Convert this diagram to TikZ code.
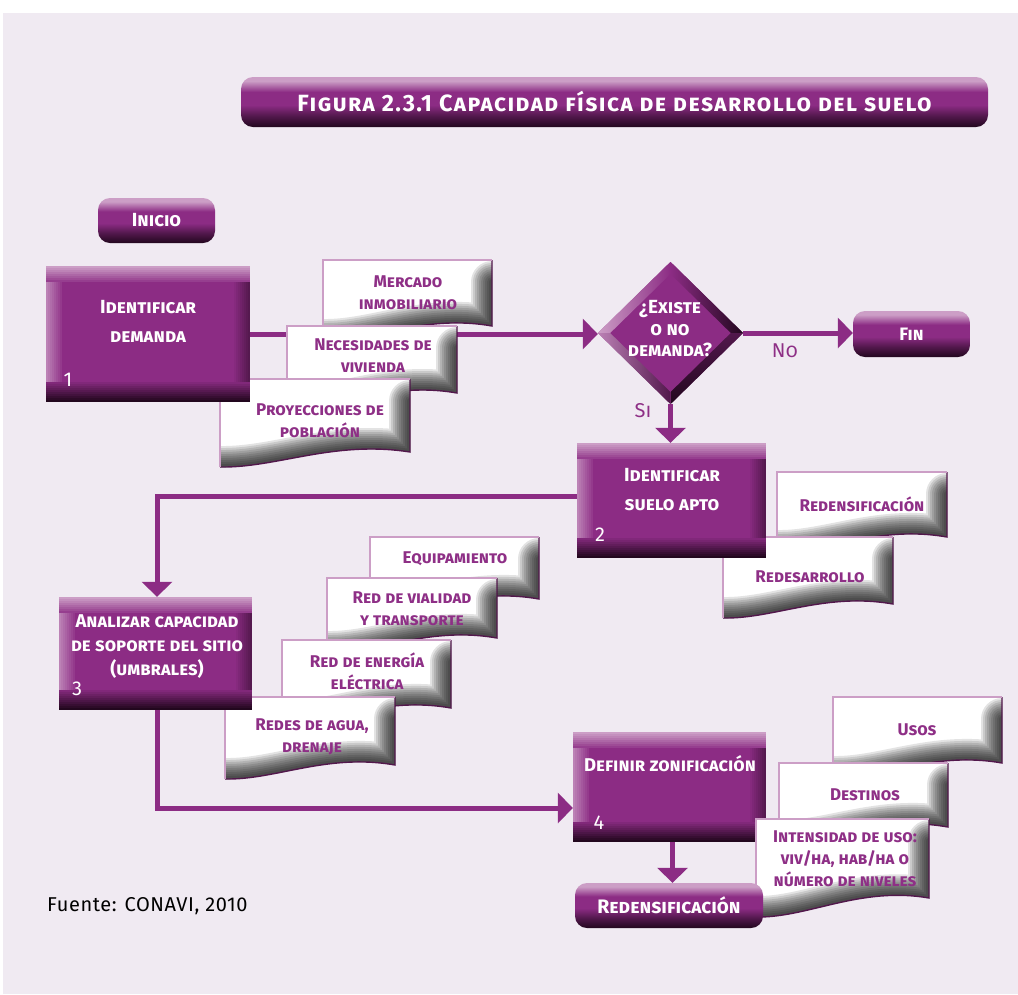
\documentclass[tikz,border=0pt]{standalone}
\usepackage{fontspec}
\setmainfont{Fira Sans}
\usetikzlibrary{arrows.meta,shapes.geometric,calc}

\definecolor{bgc}{HTML}{F0EAF2}
\definecolor{plum}{HTML}{8C2C84}
\definecolor{plumlt}{HTML}{CC9EC6}
\definecolor{plumdk}{HTML}{22071E}
\definecolor{plumtxt}{HTML}{8E2F86}
\colorlet{plummd}{plumdk!55!plum}
\colorlet{plumhi}{plumlt!75!plum}
\colorlet{plumrim}{plumdk!55!plum}

% glossy vertical gradient for the rounded buttons
\pgfdeclareverticalshading{pill}{100bp}{color(0bp)=(plumdk); color(25bp)=(plumdk); color(36bp)=(plummd); color(47bp)=(plum); color(60bp)=(plum); color(71bp)=(plumlt); color(75bp)=(plumlt); color(100bp)=(plumlt)}

\pgfdeclarelayer{back}
\pgfdeclarelayer{wires}
\pgfdeclarelayer{pages}
\pgfsetlayers{back,wires,pages,main}

\tikzset{
  pill/.style={rectangle, rounded corners=12pt, shading=pill, inner sep=0pt,
    text=white, font=\bfseries\scshape\fontsize{19}{22}\selectfont},
  % bevelled process box: light rim top/left, dark rim right/bottom
  stepbox/.style={rectangle, fill=plum, inner sep=0pt, path picture={
    \foreach \i in {0,...,7}{
      \pgfmathtruncatemacro\p{100-\i*12}
      \fill[plumhi!\p!plum] ([xshift={\i*2pt}]path picture bounding box.north west) rectangle ([xshift={\i*2pt+2.3pt}]path picture bounding box.south west);
      \pgfmathtruncatemacro\q{95-\i*12}
      \fill[plumrim!\q!plum] ([xshift={-\i*2pt}]path picture bounding box.north east) rectangle ([xshift={-\i*2pt-2.3pt}]path picture bounding box.south east);
    }
    \foreach \i in {0,...,7}{
      \pgfmathtruncatemacro\p{100-\i*12}
      \fill[plumlt!\p!plum] ([yshift={-\i*2pt}]path picture bounding box.north west) rectangle ([yshift={-\i*2pt-2.3pt}]path picture bounding box.north east);
    }
    \foreach \i in {0,...,9}{
      \pgfmathtruncatemacro\p{100-\i*10}
      \fill[plumdk!\p!plum] ([yshift={\i*2pt}]path picture bounding box.south west) rectangle ([yshift={\i*2pt+2.3pt}]path picture bounding box.south east);
    }
  }},
  boxtext/.style={text=white, align=center, inner sep=0pt, font=\bfseries\scshape\fontsize{19}{29}\selectfont},
  boxnum/.style={text=white, inner sep=0pt, font=\fontsize{20}{22}\selectfont},
  pagetext/.style={text=plumtxt, align=center, inner sep=0pt, font=\bfseries\scshape\fontsize{17}{22}\selectfont},
  flowlabel/.style={text=plumtxt, inner sep=0pt, font=\scshape\fontsize{20}{22}\selectfont},
  wire/.style={draw=plum, line width=5pt},
  arrowwire/.style={wire, -{Triangle[width=30pt,length=15pt]}},
}

% a page-like card with a wavy lower edge: x1, y1, x2, y-left-bottom, y-right-bottom, name, text x, text y, text
\newcommand\docpage[9]{%
  \begin{pgfonlayer}{pages}
  \begin{scope}
    \clip (#1,#2) -- (#3,#2) -- (#3,#5) .. controls ({#1+0.6*(#3-#1)},{#5-12}) and ({#1+0.3*(#3-#1)},{#4+1}) .. (#1,#4) -- cycle;
    \fill[white] (#1,#2) rectangle (#3,{#4+5});
    \foreach \w in {42,38,34,30,26,22,18,14,10,6}
      \draw[black, opacity=0.11, line width=\w pt, line cap=round]
        (#3,{#2+22}) -- (#3,#5) .. controls ({#1+0.6*(#3-#1)},{#5-12}) and ({#1+0.3*(#3-#1)},{#4+1}) .. (#1,#4) -- ({#1-20},#4);
  \end{scope}
  \draw[plumrim, line width=1.4pt] (#3,#2) -- (#3,#5) .. controls ({#1+0.6*(#3-#1)},{#5-12}) and ({#1+0.3*(#3-#1)},{#4+1}) .. (#1,#4);
  \draw[plumlt, line width=2pt] (#1,#4) -- (#1,#2) -- (#3,#2);
  \node[pagetext] (#6) at (#7,#8) {#9};
  \end{pgfonlayer}}

\begin{document}
\begin{tikzpicture}[x=1pt,y=-1pt]
\begin{pgfonlayer}{back}
  \fill[white] (0,0) rectangle (1018,994);
  \fill[bgc] (3,13) rectangle (1018,994);
\end{pgfonlayer}
\useasboundingbox (0,0) rectangle (1018,994);

% title bar
\node[pill, minimum width=747pt, minimum height=50pt, font=\bfseries\scshape\fontsize{23.5}{26}\selectfont\addfontfeatures{LetterSpace=6}] (title) at (614.5,102) {Figura 2.3.1 Capacidad física de desarrollo del suelo};

% start / end buttons
\node[pill, minimum width=117pt, minimum height=45pt] (inicio) at (156.5,220.5) {Inicio};
\node[pill, minimum width=117pt, minimum height=46pt, font=\bfseries\scshape\fontsize{18}{20}\selectfont] (fin) at (911.5,334) {Fin};
\node[pill, minimum width=188pt, minimum height=45pt, font=\bfseries\scshape\fontsize{19.5}{22}\selectfont] (redfin) at (669,905.5) {Redensificación};

% process steps
\node[stepbox, minimum width=204pt, minimum height=136pt] (b1) at (148,334) {};
\node[boxtext] (b1t) at (148,321) {Identificar\\demanda};
\node[boxnum] (b1n) at (68,380) {1};

\node[stepbox, minimum width=189pt, minimum height=115pt] (b2) at (671.5,500.5) {};
\node[boxtext] (b2t) at (672,490) {Identificar\\suelo apto};
\node[boxnum] (b2n) at (600,535) {2};

\node[stepbox, minimum width=193pt, minimum height=113pt] (b3) at (155.5,653.5) {};
\node[boxtext, font=\bfseries\scshape\fontsize{18.5}{24}\selectfont] (b3t) at (157,647) {Analizar capacidad\\de soporte del sitio\\(umbrales)};
\node[boxnum] (b3n) at (77,689) {3};

% decision
\node[diamond, minimum width=145pt, minimum height=142pt, inner sep=0pt, fill=plum] (dec) at (670.5,333) {};
\coordinate (dT) at ($(dec.north)!0.17!(dec.center)$);
\coordinate (dR) at ($(dec.east)!0.17!(dec.center)$);
\coordinate (dB) at ($(dec.south)!0.17!(dec.center)$);
\coordinate (dL) at ($(dec.west)!0.17!(dec.center)$);
\shade[left color=plumlt, right color=plum] (dec.west) -- (dec.north) -- (dT) -- (dL) -- cycle;
\shade[left color=plum, right color=plumdk] (dec.north) -- (dec.east) -- (dR) -- (dT) -- cycle;
\shade[top color=plummd, bottom color=plumdk] (dec.east) -- (dec.south) -- (dB) -- (dR) -- cycle;
\shade[left color=plumhi, right color=plummd] (dec.south) -- (dec.west) -- (dL) -- (dB) -- cycle;
\node[boxtext, font=\bfseries\scshape\fontsize{19}{21.5}\selectfont] (dect) at (670,329) {¿Existe\\o no\\demanda?};

\node[flowlabel] (si) at (643,411) {Si};
\node[flowlabel] (no) at (785,351) {No};

% step 4 sits below its cards
\begin{pgfonlayer}{wires}
  \node[stepbox, minimum width=193pt, minimum height=110pt] (b4) at (669.5,787) {};
\end{pgfonlayer}
\node[boxtext, font=\bfseries\scshape\fontsize{18.5}{24}\selectfont] (b4t) at (670,764) {Definir zonificación};
\node[boxnum] (b4n) at (599,823) {4};

% connectors
\begin{pgfonlayer}{wires}
  \draw[arrowwire] (b1.east) -- (b1.east -| dec.west);
  \draw[arrowwire] (dec.south) -- (dec.south |- b2.north);
  \draw[arrowwire] (dec.east) -- (dec.east -| fin.west);
  \draw[arrowwire] ([yshift=4pt]b2.west) -| ([xshift=1.5pt]b3.north);
  \draw[arrowwire] ([xshift=1.5pt]b3.south) |- ([yshift=-21pt]b4.west);
  \draw[arrowwire] ([xshift=3pt]b4.south) -- ([xshift=3pt]b4.south |- redfin.north);
\end{pgfonlayer}

% input cards
\docpage{323}{260}{492}{340}{326}{mercado}{408}{293}{Mercado\\inmobiliario}
\docpage{287}{326}{457}{408}{393}{necesidades}{373}{356}{Necesidades de\\vivienda}
\docpage{220}{379}{410}{467}{452}{proyecciones}{320}{421}{Proyecciones de\\población}

\docpage{777}{472}{947}{551}{537}{redens}{862}{504}{Redensificación}
\docpage{723}{537}{893}{618}{604}{redes}{810}{577}{Redesarrollo}

\docpage{370}{537}{539}{613}{599}{equip}{455}{559}{Equipamiento}
\docpage{327}{578}{497}{652}{638}{vialidad}{412}{609}{Red de vialidad\\y transporte}
\docpage{282}{640}{451}{722}{708}{energia}{367}{671}{Red de energía\\eléctrica}
\docpage{225}{697}{395}{779}{765}{agua}{312}{737}{Redes de agua,\\drenaje}

\docpage{833}{697}{1002}{777}{763}{usos}{917}{730}{Usos}
\docpage{779}{763}{948}{841}{827}{destinos}{865}{795}{Destinos}
\docpage{756}{819}{929}{917}{898}{intensidad}{845}{859}{Intensidad de uso:\\viv/ha, hab/ha o\\número de niveles}

% source note
\node[anchor=west, inner sep=0pt, text=black, font=\fontsize{20}{22}\selectfont\addfontfeatures{LetterSpace=3}] (fuente) at (47,906) {Fuente: CONAVI, 2010};
\end{tikzpicture}
\end{document}
